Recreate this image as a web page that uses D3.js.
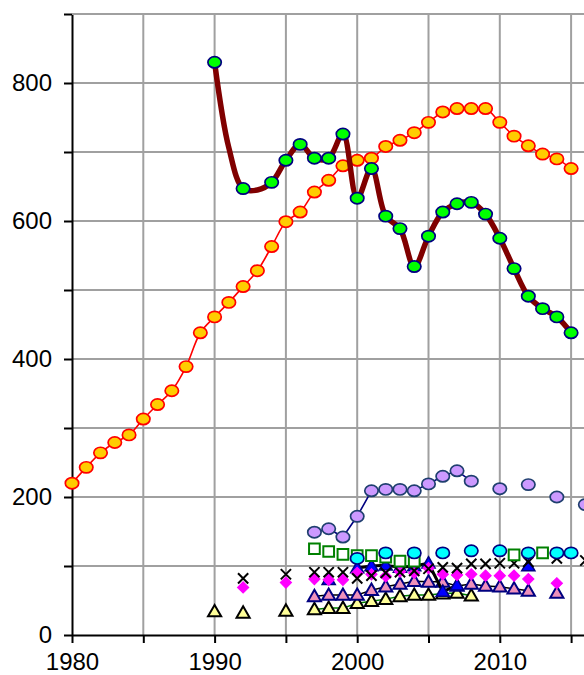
<!DOCTYPE html>
<html>
<head>
<meta charset="utf-8">
<script src="https://cdn.jsdelivr.net/npm/d3@7"></script>
<style>
  body { margin: 0; background: #fff; }
  svg { display: block; font-family: "Liberation Sans", Arial, sans-serif; }
</style>
</head>
<body>
<div id="chart-area"></div>
<script>
// annual series 1980-2015 (gold circles, red line)
let goldYears = d3.range(1980, 2016);
let goldValues = [220, 243, 264, 279, 290, 313, 334, 354, 389, 438, 461, 482, 505, 528, 563, 599, 613, 642,
                  659, 680, 688, 691, 708, 717, 728, 743, 758, 763, 763, 763, 743, 723, 709, 697, 690, 676];

// maroon smooth line and its green markers
let maroonLineYears  = [1990, 1991, 1992, 1993, 1994, 1995, 1996, 1997, 1998, 1999, 2000, 2001, 2002, 2003,
                        2004, 2005, 2006, 2007, 2008, 2009, 2010, 2011, 2012, 2013, 2014, 2015];
let maroonLineValues = [830, 706, 647, 645, 656, 688, 711, 691, 691, 726, 633, 676, 607, 589,
                        534, 578, 613, 625, 627, 610, 575, 531, 491, 473, 461, 438];
let greenYears  = [1990, 1992, 1994, 1995, 1996, 1997, 1998, 1999, 2000, 2001, 2002, 2003, 2004, 2005,
                   2006, 2007, 2008, 2009, 2010, 2011, 2012, 2013, 2014, 2015];
let greenValues = [830, 647, 656, 688, 711, 691, 691, 726, 633, 676, 607, 589, 534, 578,
                   613, 625, 627, 610, 575, 531, 491, 473, 461, 438];

// lavender circles (null = no value, breaks the line)
let lavenderYears  = d3.range(1997, 2017);
let lavenderValues = [149, 154, 142, 172, 209, 211, 211, 209, 219, 230, 238, 223, null, 212, null, 218, null, 200, null, 189];

let cyanYears  = [2000, 2002, 2004, 2006, 2008, 2010, 2012, 2014, 2015];
let cyanValues = [111, 119, 119, 119, 122, 122, 119, 119, 119];

let squareYears  = [1997, 1998, 1999, 2000, 2001, 2002, 2003, 2004, 2011, 2013];
let squareValues = [125, 121, 117, 115, 115, 113, 107, 107, 116, 119];

let crossYears  = [1992, 1995, 1997, 1998, 1999, 2000, 2001, 2002, 2003, 2004, 2005, 2006, 2007, 2008, 2009, 2010, 2011, 2012, 2014, 2016];
let crossValues = [82, 88, 91, 91, 91, 82, 86, 90, 91, 93, 96, 98, 97, 103, 103, 104, 104, 106, 111, 108];

let diamondYears  = [1992, 1995, 1997, 1998, 1999, 2000, 2001, 2002, 2003, 2004, 2005, 2006, 2007, 2008, 2009, 2010, 2011, 2012, 2014];
let diamondValues = [69, 76, 81, 80, 80, 90, 88, 85, 92, 90, 97, 88, 87, 88, 86, 86, 86, 81, 75];

let blueYears  = d3.range(1998, 2013);
let blueValues = [80, null, 97, 100, 101, 98, 100, 104, 63, 72, null, null, null, null, 100];

let pinkYears  = d3.range(1997, 2015);
let pinkValues = [56, 58, 58, 58, 65, 70, 74, 78, 77, 77, 71, 74, 71, 70, 67, 64, null, 61];

let yellowYears  = d3.range(1990, 2009);
let yellowValues = [34, null, 32, null, null, 35, null, 37, 39, 39, 46, 49, 52, 56, 58, 58, 60, 61, 57];

let yTicks = d3.range(0, 901, 100);
let xTicks = d3.range(1980, 2016, 5);

let svgCanvas = d3.select("#chart-area")
                  .append("svg")
                  .attr("width", 584)
                  .attr("height", 675)

let x = d3.scaleLinear().domain([1980, 2020]).range([72, 642.4]);
let y = d3.scaleLinear().domain([0, 900]).range([635, 14]);

function pairs(years, values) {
    return years.map((yr, i) => ({year: yr, value: values[i]}));
}

// grid
svgCanvas.append("g").selectAll("line")
    .data(yTicks.slice(1))
    .enter().append("line")
    .attr("x1", 72).attr("x2", 642)
    .attr("y1", d => y(d)).attr("y2", d => y(d))
    .attr("stroke", "#a0a0a0").attr("stroke-width", 2)
svgCanvas.append("g").selectAll("line")
    .data(xTicks.slice(1))
    .enter().append("line")
    .attr("x1", d => x(d)).attr("x2", d => x(d))
    .attr("y1", y(900)).attr("y2", y(0))
    .attr("stroke", "#a0a0a0").attr("stroke-width", 2)

// axes
let yAxis = svgCanvas.append("g")
    .attr("transform", "translate(72,0)")
    .call(d3.axisLeft(y).tickValues(yTicks).tickFormat(d => d % 200 === 0 ? d : "")
          .tickSize(8).tickSizeOuter(0).tickPadding(12));
let xAxis = svgCanvas.append("g")
    .attr("transform", "translate(0,635)")
    .call(d3.axisBottom(x).tickValues(xTicks).tickFormat(d => d % 10 === 0 ? d : "")
          .tickSize(8).tickSizeOuter(0).tickPadding(10));
[yAxis, xAxis].forEach(a => {
    a.selectAll("path, line").attr("stroke", "#000").attr("stroke-width", 2);
    a.selectAll("text").attr("font-size", 24).attr("fill", "#000")
        .attr("font-family", "'Liberation Sans', Arial, sans-serif");
});

let lineGen = d3.line()
    .defined(d => d.value != null)
    .x(d => x(d.year))
    .y(d => y(d.value));

function drawLine(data, color, width, curve) {
    svgCanvas.append("path")
        .datum(data)
        .attr("fill", "none")
        .attr("stroke", color)
        .attr("stroke-width", width)
        .attr("stroke-linejoin", "round")
        .attr("d", lineGen.curve(curve || d3.curveLinear)(data))
}

function drawEllipses(data, fill, stroke) {
    svgCanvas.append("g").selectAll("ellipse")
        .data(data.filter(d => d.value != null))
        .enter().append("ellipse")
        .attr("cx", d => x(d.year))
        .attr("cy", d => y(d.value))
        .attr("rx", 6.7).attr("ry", 5.6)
        .attr("fill", fill)
        .attr("stroke", stroke)
        .attr("stroke-width", 1.7)
}

function drawSymbols(data, type, size, fill, stroke, width, rotate, dy) {
    svgCanvas.append("g").selectAll("path")
        .data(data.filter(d => d.value != null))
        .enter().append("path")
        .attr("transform", d => "translate(" + x(d.year) + "," + (y(d.value) + (dy || 0)) + ") rotate(" + (rotate || 0) + ")")
        .attr("d", d3.symbol().type(type).size(size))
        .attr("fill", fill)
        .attr("stroke", stroke)
        .attr("stroke-width", width)
}

// gold/red series
let gold = pairs(goldYears, goldValues);
drawLine(gold, "#ff0000", 1.6, d3.curveCatmullRom);
drawEllipses(gold, "#ffcc00", "#ff0000");

// maroon series
drawLine(pairs(maroonLineYears, maroonLineValues), "#800000", 5.5, d3.curveCatmullRom);
drawEllipses(pairs(greenYears, greenValues), "#00ff00", "#000080");

// lavender series
let lavender = pairs(lavenderYears, lavenderValues);
drawLine(lavender, "#000080", 1.6);
drawEllipses(lavender, "#cc99ff", "#1f3f6f");

// yellow triangles with green line
let yellow = pairs(yellowYears, yellowValues);
drawLine(yellow, "#008000", 1.5);
drawSymbols(yellow, d3.symbolTriangle, 75, "#ffff99", "#000", 2, 0, 1);

// pink triangles with black line
let pink = pairs(pinkYears, pinkValues);
drawLine(pink, "#000", 1.5);
drawSymbols(pink, d3.symbolTriangle, 75, "#ee90bb", "#000080", 2, 0, 1);

// blue triangles with black line
let blue = pairs(blueYears, blueValues);
drawLine(blue, "#000", 3);
drawSymbols(blue, d3.symbolTriangle, 75, "#0000ff", "#000080", 1.5, 0, 1);

// magenta diamonds
drawSymbols(pairs(diamondYears, diamondValues), d3.symbolSquare, 64, "#ff00ff", "#ff00ff", 1, 45);

// black crosses
drawSymbols(pairs(crossYears, crossValues), d3.symbolX, 70, "none", "#000", 2);

// green hollow squares
drawSymbols(pairs(squareYears, squareValues), d3.symbolSquare, 115, "#fff", "#008000", 2);

// cyan circles
drawEllipses(pairs(cyanYears, cyanValues), "#00ffff", "#000080");

// top border
svgCanvas.append("line")
    .attr("x1", 72).attr("x2", 642)
    .attr("y1", y(900)).attr("y2", y(900))
    .attr("stroke", "#a0a0a0").attr("stroke-width", 2)
</script>
</body>
</html>
